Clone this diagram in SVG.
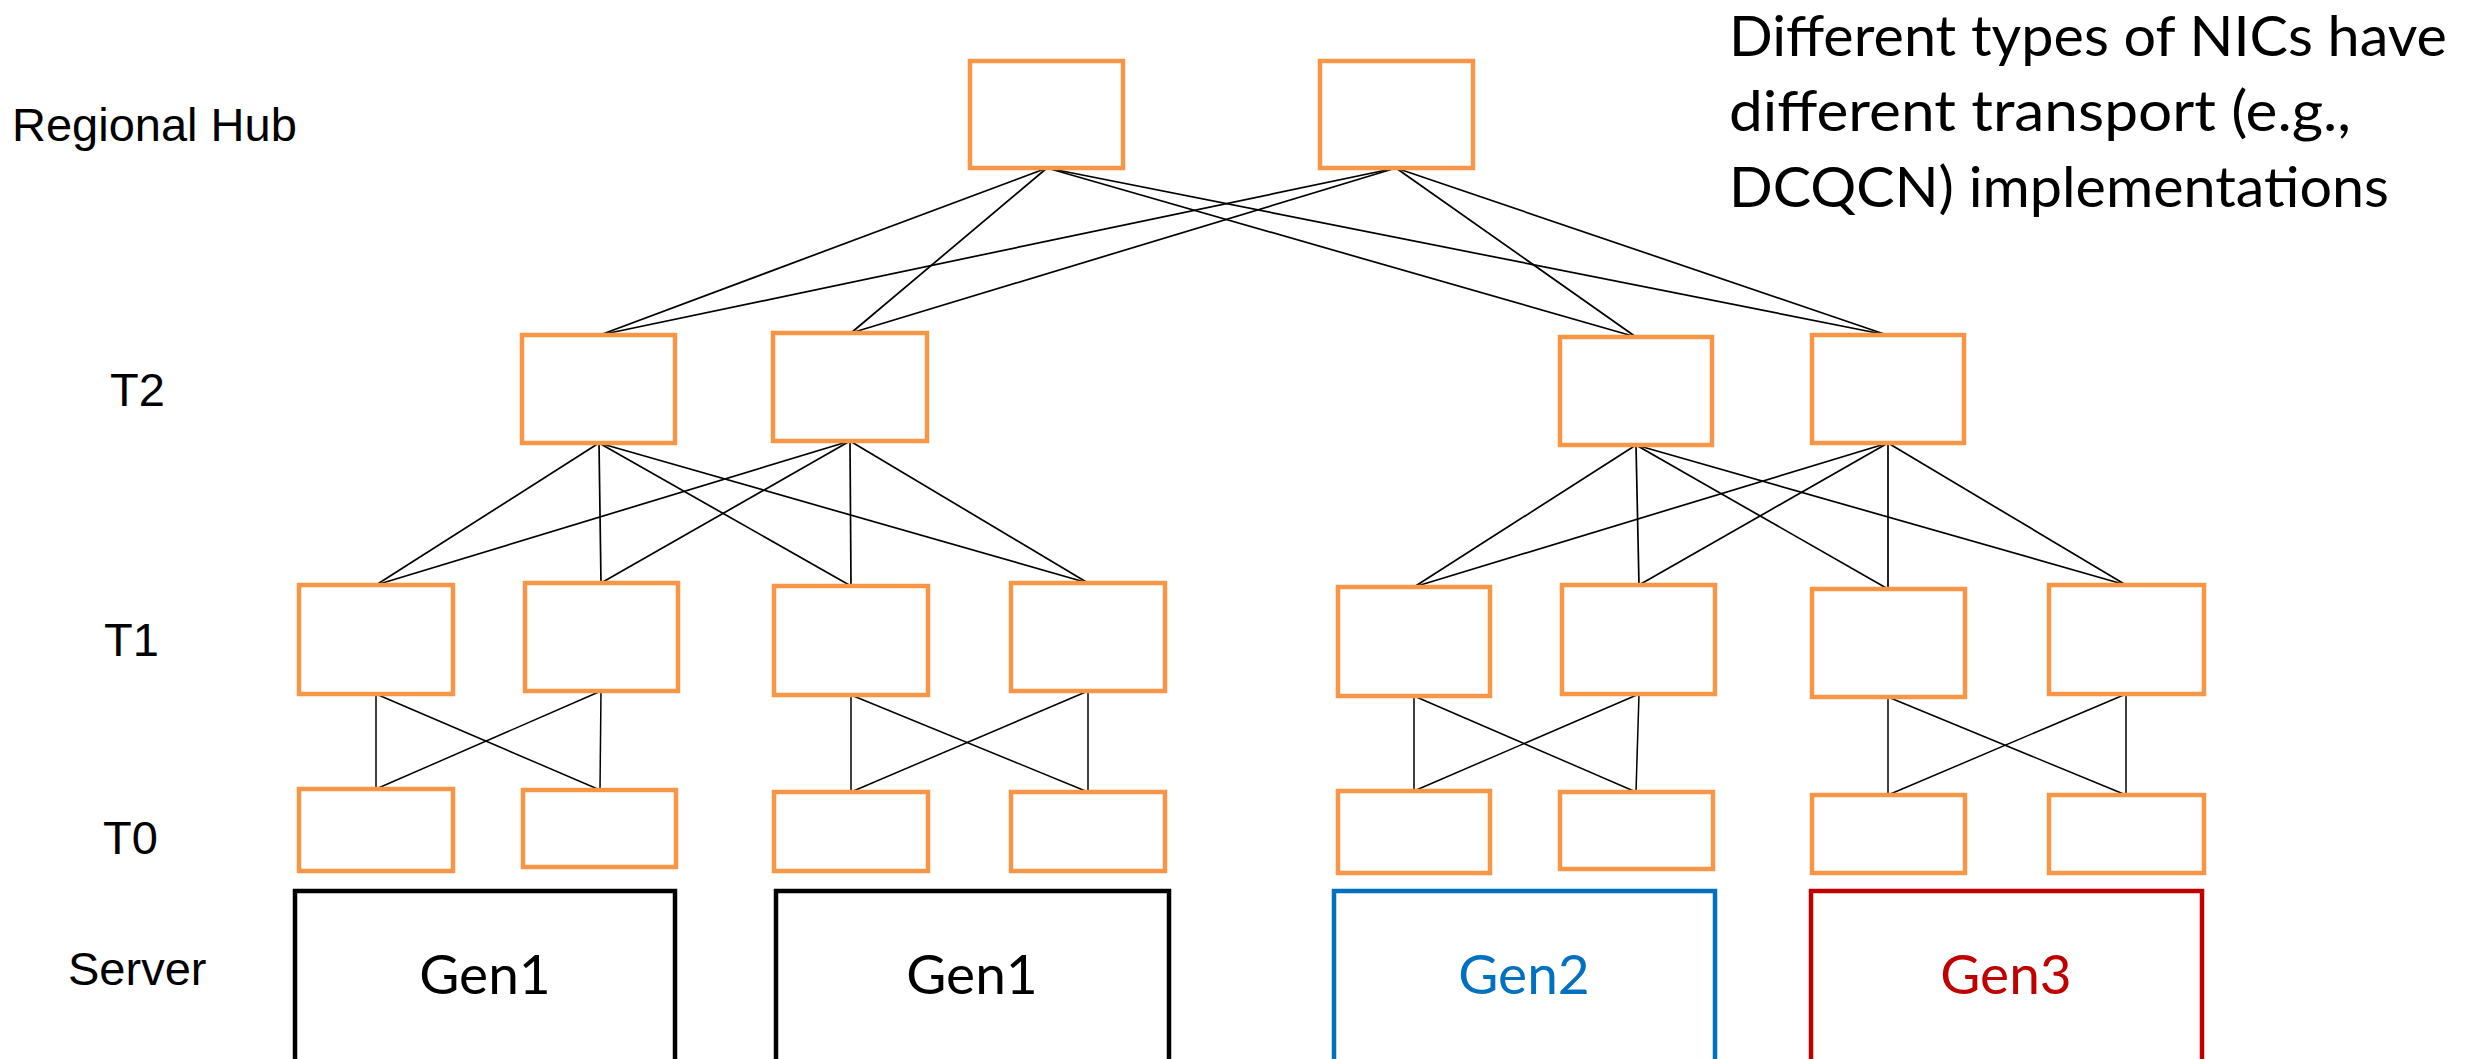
<svg xmlns="http://www.w3.org/2000/svg" width="2474" height="1059" viewBox="0 0 2474 1059">
<style>
.sw{fill:#ffffff;stroke:#F79646;stroke-width:4.5}
.srv{fill:#ffffff;stroke-width:4.5}
.lbl{font-family:"Liberation Sans",Arial,sans-serif;font-size:47px;fill:#000000}
.gen{font-family:Lato,"Open Sans",sans-serif;font-size:55px;text-anchor:middle}
.note{font-family:Lato,"Open Sans",sans-serif;font-size:56px;fill:#000000}
.up line{stroke:#000000;stroke-width:1.7}
.dn line{stroke:#000000;stroke-width:1.5}
</style>
<rect width="2474" height="1059" fill="#ffffff"/>

<g id="labels">
<text class="lbl" x="12" y="141">Regional Hub</text>
<text class="lbl" x="110" y="406">T2</text>
<text class="lbl" x="104" y="656">T1</text>
<text class="lbl" x="103" y="854">T0</text>
<text class="lbl" x="68" y="985">Server</text>
</g>

<g id="note">
<text class="note" x="1729" y="56" textLength="718" lengthAdjust="spacingAndGlyphs">Different types of NICs have</text>
<text class="note" x="1729" y="131" textLength="622" lengthAdjust="spacingAndGlyphs">different transport (e.g.,</text>
<text class="note" x="1729" y="207" textLength="660" lengthAdjust="spacingAndGlyphs">DCQCN) implementations</text>
</g>

<g id="connectors">
<g class="up">
<line x1="1047" y1="168" x2="600" y2="335"/>
<line x1="1047" y1="168" x2="851" y2="333"/>
<line x1="1047" y1="168" x2="1636" y2="337"/>
<line x1="1047" y1="168" x2="1887" y2="335"/>
<line x1="1396" y1="168" x2="600" y2="335"/>
<line x1="1396" y1="168" x2="851" y2="333"/>
<line x1="1396" y1="168" x2="1636" y2="337"/>
<line x1="1396" y1="168" x2="1887" y2="335"/>
<line x1="599" y1="443" x2="376" y2="585"/>
<line x1="599" y1="443" x2="601" y2="583"/>
<line x1="599" y1="443" x2="851" y2="586"/>
<line x1="599" y1="443" x2="1088" y2="583"/>
<line x1="850" y1="441" x2="376" y2="585"/>
<line x1="850" y1="441" x2="601" y2="583"/>
<line x1="850" y1="441" x2="851" y2="586"/>
<line x1="850" y1="441" x2="1088" y2="583"/>
<line x1="1636" y1="445" x2="1414" y2="587"/>
<line x1="1636" y1="445" x2="1639" y2="585"/>
<line x1="1636" y1="445" x2="1888" y2="589"/>
<line x1="1636" y1="445" x2="2126" y2="585"/>
<line x1="1888" y1="443" x2="1414" y2="587"/>
<line x1="1888" y1="443" x2="1639" y2="585"/>
<line x1="1888" y1="443" x2="1888" y2="589"/>
<line x1="1888" y1="443" x2="2126" y2="585"/>
</g>
<g class="dn">
<line x1="376" y1="694" x2="376" y2="789"/>
<line x1="376" y1="694" x2="600" y2="790"/>
<line x1="601" y1="691" x2="376" y2="789"/>
<line x1="601" y1="691" x2="600" y2="790"/>
<line x1="851" y1="695" x2="851" y2="792"/>
<line x1="851" y1="695" x2="1088" y2="792"/>
<line x1="1088" y1="691" x2="851" y2="792"/>
<line x1="1088" y1="691" x2="1088" y2="792"/>
<line x1="1414" y1="696" x2="1414" y2="791"/>
<line x1="1414" y1="696" x2="1636" y2="792"/>
<line x1="1639" y1="694" x2="1414" y2="791"/>
<line x1="1639" y1="694" x2="1636" y2="792"/>
<line x1="1888" y1="697" x2="1888" y2="795"/>
<line x1="1888" y1="697" x2="2126" y2="795"/>
<line x1="2126" y1="694" x2="1888" y2="795"/>
<line x1="2126" y1="694" x2="2126" y2="795"/>
</g>
</g>

<g id="hub1"><rect class="sw" x="970" y="61" width="153" height="107"/></g>
<g id="hub2"><rect class="sw" x="1320" y="61" width="153" height="107"/></g>

<g id="t2a"><rect class="sw" x="522" y="335" width="153" height="108"/></g>
<g id="t2b"><rect class="sw" x="773" y="333" width="154" height="108"/></g>
<g id="t2c"><rect class="sw" x="1560" y="337" width="152" height="108"/></g>
<g id="t2d"><rect class="sw" x="1812" y="335" width="152" height="108"/></g>

<g id="t1a"><rect class="sw" x="299" y="585" width="154" height="109"/></g>
<g id="t1b"><rect class="sw" x="525" y="583" width="153" height="108"/></g>
<g id="t1c"><rect class="sw" x="774" y="586" width="154" height="109"/></g>
<g id="t1d"><rect class="sw" x="1011" y="583" width="154" height="108"/></g>
<g id="t1e"><rect class="sw" x="1338" y="587" width="152" height="109"/></g>
<g id="t1f"><rect class="sw" x="1562" y="585" width="153" height="109"/></g>
<g id="t1g"><rect class="sw" x="1812" y="589" width="153" height="108"/></g>
<g id="t1h"><rect class="sw" x="2049" y="585" width="155" height="109"/></g>

<g id="t0a"><rect class="sw" x="299" y="789" width="154" height="82"/></g>
<g id="t0b"><rect class="sw" x="523" y="790" width="153" height="77"/></g>
<g id="t0c"><rect class="sw" x="774" y="792" width="154" height="79"/></g>
<g id="t0d"><rect class="sw" x="1011" y="792" width="154" height="79"/></g>
<g id="t0e"><rect class="sw" x="1338" y="791" width="152" height="82"/></g>
<g id="t0f"><rect class="sw" x="1560" y="792" width="153" height="77"/></g>
<g id="t0g"><rect class="sw" x="1812" y="795" width="153" height="78"/></g>
<g id="t0h"><rect class="sw" x="2049" y="795" width="155" height="78"/></g>

<g id="server1"><rect class="srv" stroke="#000000" x="295" y="891" width="380" height="200"/><text class="gen" fill="#000000" x="485" y="994">Gen1</text></g>
<g id="server2"><rect class="srv" stroke="#000000" x="776" y="891" width="393" height="200"/><text class="gen" fill="#000000" x="972" y="994">Gen1</text></g>
<g id="server3"><rect class="srv" stroke="#0070C0" x="1334" y="891" width="381" height="200"/><text class="gen" fill="#0070C0" x="1524" y="994">Gen2</text></g>
<g id="server4"><rect class="srv" stroke="#C00000" x="1811" y="891" width="391" height="200"/><text class="gen" fill="#C00000" x="2006" y="994">Gen3</text></g>
</svg>
